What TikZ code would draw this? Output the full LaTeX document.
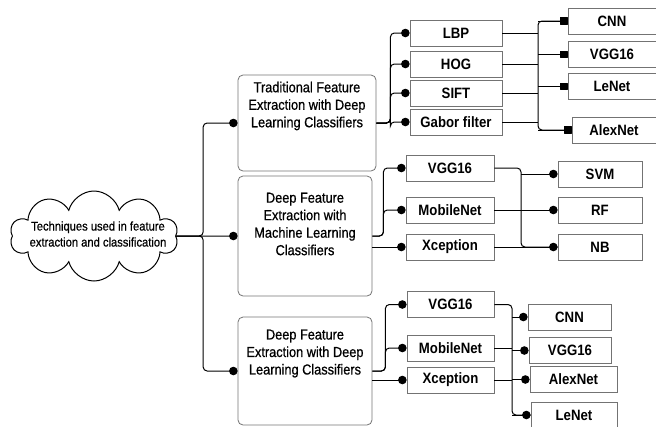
\documentclass[tikz,border=0pt]{standalone}
\usepackage{fontspec}
\setmainfont[FakeStretch=0.88]{Liberation Sans}
\newfontfamily\medfont[FakeStretch=0.88, FakeBold=0.7]{Liberation Sans}
\usetikzlibrary{shapes.symbols, arrows.meta}

\begin{document}
\begin{tikzpicture}[x = 1pt, y = -1pt,
  bigbox/.style = {draw = black!55, line width = 0.8pt, rounded corners = 5pt},
  bigtext/.style = {align = center, inner sep = 0pt, font = \medfont\fontsize{14.5}{17.5}\selectfont},
  smallbox/.style = {draw = black!55, line width = 0.8pt, minimum height = 26pt, inner sep = 0pt, font = \fontsize{15}{16}\selectfont\bfseries},
  wire/.style = {draw, line width = 1pt, rounded corners = 4pt},
  dotlink/.style = {wire, -{Circle[length = 8.5pt]}},
  sqlink/.style = {wire, -{Square[length = 7.5pt, round]}}]

  \useasboundingbox (0, 0) rectangle (656, 426);

  % Root
  \node[cloud, cloud puffs = 10, cloud ignores aspect, draw, line width = 1pt, minimum width = 168, minimum height = 90, inner sep = 0pt] (root) at (94, 236) {};
  \node[align = center, inner sep = 0pt, font = \medfont\fontsize{12.7}{16}\selectfont] (root-text) at (98, 234) {Techniques used in feature\\extraction and classification};

  % Groups
  \node[bigbox, minimum width = 138, minimum height = 96] (trad) at (307, 123) {};
  \node[bigtext] (trad-text) at (307, 106) {Traditional Feature\\Extraction with Deep\\Learning Classifiers};
  \node[bigbox, minimum width = 134, minimum height = 120] (dfml) at (305, 236) {};
  \node[bigtext] (dfml-text) at (305, 224) {Deep Feature\\Extraction with\\Machine Learning\\Classifiers};
  \node[bigbox, minimum width = 134, minimum height = 108] (dfdl) at (305, 371) {};
  \node[bigtext] (dfdl-text) at (305, 353.5) {Deep Feature\\Extraction with Deep\\Learning Classifiers};

  % Traditional features
  \node[smallbox, minimum width = 92] (t-lbp) at (456, 33) {LBP};
  \node[smallbox, minimum width = 92] (t-hog) at (456, 64) {HOG};
  \node[smallbox, minimum width = 92] (t-sift) at (456, 93) {SIFT};
  \node[smallbox, minimum width = 92] (t-gabor) at (456, 122) {Gabor filter};

  \node[smallbox, minimum width = 88] (t-cnn) at (612, 21) {CNN};
  \node[smallbox, minimum width = 88] (t-vgg) at (612, 54.5) {VGG16};
  \node[smallbox, minimum width = 88] (t-lenet) at (612, 86.5) {LeNet};
  \node[smallbox, minimum width = 84] (t-alexnet) at (614, 130) {AlexNet};

  % Deep features, machine learning
  \node[smallbox, minimum width = 88] (m-vgg) at (450, 168) {VGG16};
  \node[smallbox, minimum width = 88] (m-mobile) at (450, 210) {MobileNet};
  \node[smallbox, minimum width = 88] (m-xception) at (450, 247) {Xception};

  \node[smallbox, minimum width = 84] (m-svm) at (600, 174) {SVM};
  \node[smallbox, minimum width = 84] (m-rf) at (600, 210) {RF};
  \node[smallbox, minimum width = 84] (m-nb) at (600, 247) {NB};

  % Deep features, deep learning
  \node[smallbox, minimum width = 87] (b-vgg) at (450.5, 304.5) {VGG16};
  \node[smallbox, minimum width = 87] (b-mobile) at (450.5, 348) {MobileNet};
  \node[smallbox, minimum width = 87] (b-xception) at (450.5, 380) {Xception};

  \node[smallbox, minimum width = 83] (b-cnn) at (569.5, 317) {CNN};
  \node[smallbox, minimum width = 82] (b-vgg16) at (570, 350.5) {VGG16};
  \node[smallbox, minimum width = 87] (b-alexnet) at (573.5, 379.5) {AlexNet};
  \node[smallbox, minimum width = 86] (b-lenet) at (574, 415) {LeNet};

  % Buses
  \coordinate (tbus) at (538, 0);
  \coordinate (mbus) at (521, 0);
  \coordinate (bbus) at (512, 0);

  % Trunk
  \draw[dotlink] (root.east) -- ++(27, 0) |- (trad.west);
  \draw[dotlink] (root.east) -- (dfml.west);
  \draw[dotlink] (root.east) -- ++(27, 0) |- (dfdl.west);

  % Traditional branch
  \foreach \n in {t-lbp, t-hog, t-sift, t-gabor}
    \draw[dotlink] (trad.east) -- ++(14, 0) |- (\n.west);
  \draw[wire] (t-cnn.west) -| (tbus |- t-alexnet.west) -- (t-alexnet.west);
  \foreach \n in {t-lbp, t-hog, t-sift, t-gabor}
    \draw[wire] (\n.east) -- (\n.east -| tbus);
  \foreach \n in {t-cnn, t-vgg, t-lenet, t-alexnet}
    \draw[sqlink] (\n.west -| tbus) -- (\n.west);

  % Machine learning branch
  \draw[dotlink] (dfml.east) -- ++(11, 0) |- (m-vgg.west);
  \draw[dotlink] (dfml.east) -- ++(11, 0) |- (m-mobile.west);
  \draw[dotlink] (m-xception.west -| dfml.east) -- (m-xception.west);
  \draw[wire] (m-vgg.east) -| (mbus |- m-nb.west) -- (m-nb.west);
  \foreach \n in {m-mobile, m-xception}
    \draw[wire] (\n.east) -- (\n.east -| mbus);
  \foreach \n in {m-svm, m-rf, m-nb}
    \draw[dotlink] (\n.west -| mbus) -- (\n.west);

  % Deep learning branch
  \draw[dotlink] (dfdl.east) -- ++(13, 0) |- (b-vgg.west);
  \draw[dotlink] (dfdl.east) -- ++(13, 0) |- (b-mobile.west);
  \draw[dotlink] (b-xception.west -| dfdl.east) -- (b-xception.west);
  \draw[wire] (b-vgg.east) -| (bbus |- b-lenet.west) -- (b-lenet.west);
  \foreach \n in {b-mobile, b-xception}
    \draw[wire] (\n.east) -- (\n.east -| bbus);
  \foreach \n in {b-cnn, b-vgg16, b-alexnet, b-lenet}
    \draw[dotlink] (\n.west -| bbus) -- (\n.west);

\end{tikzpicture}
\end{document}
